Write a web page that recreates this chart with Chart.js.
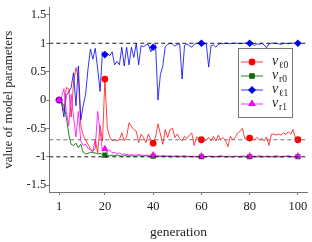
<!DOCTYPE html>
<html>
<head>
<meta charset="utf-8">
<script src="https://cdn.jsdelivr.net/npm/chart.js@4.4.0/dist/chart.umd.min.js"></script>
<style>
  body { margin: 0; background: #fff; }
  #grafico { display: block; }
</style>
</head>
<body>
<canvas id="grafico" width="312" height="242"></canvas>
<script>
// generaciones 1..100
var generaciones = Array.from({ length: 100 }, function (_, i) { return i + 1; });
var genMarcas = [1, 20, 40, 60, 80, 100];
var ticksX = [1, 20, 40, 60, 80, 100];
var ticksY = [-1.5, -1, -0.5, 0, 0.5, 1, 1.5];
var nivelesRef = [1, -1, -0.7];

var vl0 = [0, -0.05, -0.2, 0.22, 0.2, -0.3, 0.3, 0.57, 0.4, -0.45,
    -0.62, -0.7, -0.78, -0.86, -0.92, -0.69, -0.93, -0.45, -0.72, 0.37,
    -0.5, -0.65, -0.72, -0.7, -0.72, -0.7, -0.58, -0.72, -0.65, -0.4,
    -0.47, -0.52, -0.55, -0.75, -0.6, -0.66, -0.75, -0.6, -0.7, -0.76,
    -0.65, -0.42, -0.6, -0.78, -0.52, -0.66, -0.52, -0.5, -0.66, -0.6,
    -0.68, -0.72, -0.64, -0.68, -0.62, -0.58, -0.8, -0.65, -0.68, -0.7,
    -0.72, -0.7, -0.66, -0.72, -0.64, -0.72, -0.62, -0.7, -0.66, -0.72,
    -0.82, -0.64, -0.7, -0.66, -0.58, -0.55, -0.5, -0.68, -0.66, -0.67,
    -0.68, -0.7, -0.66, -0.7, -0.68, -0.72, -0.65, -0.8, -0.6, -0.6,
    -0.62, -0.6, -0.62, -0.58, -0.6, -0.56, -0.6, -0.52, -0.68, -0.7];

var vr0 = [0, -0.02, -0.1, -0.3, -0.6, -0.78, -0.8, -0.76, -0.84, -0.78,
    -0.92, -0.95, -0.94, -0.92, -0.93, -0.93, -0.95, -0.94, -0.96, -0.97,
    -0.97, -0.98, -0.97, -0.98, -0.97, -0.98, -0.99, -0.98, -0.98, -0.99,
    -0.98, -0.99, -0.99, -0.98, -0.99, -0.99, -0.98, -0.99, -1, -0.99,
    -0.99, -1, -0.99, -0.99, -1, -0.99, -1, -1, -0.99, -1,
    -1, -0.99, -1, -1, -0.99, -1, -1, -1, -0.99, -1,
    -1, -1, -0.99, -1, -1, -1, -1, -0.99, -1, -1,
    -1, -1, -1, -0.99, -1, -1, -1, -1, -1, -1,
    -0.99, -1, -1, -1, -1, -1, -0.99, -1, -1, -1,
    -1, -1, -1, -1, -0.99, -1, -1, -1, -1, -1];

var vl1 = [0, -0.03, -0.3, 0.08, 0.14, 0.22, 0.48, -0.1, 0.6, -0.35,
    -0.1, 0.1, 0.55, 0.9, 0.72, 0.91, 0.55, 0.15, 0.85, 0.8,
    0.82, 0.78, 0.85, 0.62, 0.68, 0.62, 0.93, 0.6, 0.93, 0.62,
    0.93, 0.75, 1.0, 0.62, 0.96, 0.94, 0.97, 0.98, 0.85, 0.93,
    0.97, 0.0, 0.45, 0.6, 0.94, 0.98, 1.0, 0.99, 0.95, 0.98,
    0.99, 0.37, 0.96, 0.99, 0.96, 0.93, 0.98, 1.0, 1.0, 1.0,
    0.98, 1.0, 0.58, 0.96, 0.97, 0.93, 0.98, 1.0, 0.99, 1.0,
    1.0, 0.99, 1.0, 1.0, 1.0, 0.99, 1.0, 1.0, 1.0, 1.0,
    0.99, 0.96, 0.99, 0.98, 1.0, 0.97, 0.92, 0.99, 1.0, 1.0,
    1.0, 0.99, 0.98, 1.0, 1.0, 0.99, 1.0, 1.0, 1.0, 1.0];

var vr1 = [0, 0.05, 0.2, -0.2, -0.45, 0.1, -0.3, -0.65, -0.2, -0.72,
    -0.8, -0.78, -0.85, -0.88, -0.9, -0.86, -0.2, -0.55, -0.9, -0.86,
    -0.92, -0.88, -0.93, -0.92, -0.95, -0.93, -0.96, -0.95, -0.96, -0.97,
    -0.96, -0.97, -0.97, -0.96, -0.97, -0.98, -0.97, -0.97, -0.98, -0.97,
    -0.98, -0.98, -0.99, -0.98, -0.98, -0.99, -0.98, -0.99, -0.99, -0.98,
    -0.99, -0.99, -0.98, -0.99, -1, -0.99, -0.99, -0.99, -1, -0.99,
    -0.99, -1, -0.99, -0.99, -0.99, -1, -0.99, -0.98, -0.99, -1,
    -0.99, -0.99, -1, -0.99, -0.99, -1, -0.98, -0.99, -0.99, -0.99,
    -1, -0.99, -0.99, -0.98, -0.99, -1, -0.99, -0.99, -1, -0.99,
    -0.98, -0.99, -1, -0.99, -0.99, -0.98, -0.99, -1, -0.99, -0.99];

var nombres = ["v_l0", "v_r0", "v_l1", "v_r1"];
var subindices = ["\u21130", "r0", "\u21131", "r1"];
var colores = ["rgba(255,0,0,0.75)", "rgba(0,110,0,0.85)", "rgba(0,0,255,0.8)", "rgba(255,0,255,0.8)"];
var coloresMarca = ["#ff0000", "#0a6e0a", "#0000ff", "#ff00ff"];
var estilos = ["circle", "rect", "rectRot", "triangle"];
var radios = [3.4, 3.6, 3.8, 4.2];
var series = [vl0, vr0, vl1, vr1];

var xMin = -3.05, xMax = 104.1;
var fuente = "'Liberation Serif', 'DejaVu Serif', serif";

var datasets = [];
for (var s = 0; s < series.length; s++) {
    (function (s) {
        datasets.push({
            label: nombres[s],
            data: generaciones.map(function (g, i) { return { x: g, y: series[s][i] }; }),
            borderColor: colores[s],
            borderWidth: 1,
            backgroundColor: coloresMarca[s],
            pointBackgroundColor: coloresMarca[s],
            pointBorderColor: coloresMarca[s],
            pointBorderWidth: 0,
            pointStyle: estilos[s],
            pointRadius: function (ctx) {
                return genMarcas.indexOf(ctx.raw.x) >= 0 ? radios[s] : 0;
            },
            tension: 0,
            order: 4 - s
        });
    })(s);
}

// lineas de referencia discontinuas
nivelesRef.forEach(function (nivel, k) {
    datasets.push({
        label: "ref" + k,
        data: [{ x: xMin, y: nivel }, { x: xMax, y: nivel }],
        borderColor: k < 2 ? "#000" : "#666",
        borderWidth: 0.9,
        borderDash: [4, 3],
        pointRadius: 0,
        order: -1
    });
});

// leyenda dibujada a mano (subindices)
var leyendaPlugin = {
    id: 'leyendaPlugin',
    afterDraw: function (chart) {
        var ctx = chart.ctx;
        var x0 = 238.5, y0 = 48.5, w = 54, h = 69;
        ctx.save();
        ctx.fillStyle = "#fff";
        ctx.fillRect(x0, y0, w, h);
        ctx.strokeStyle = "#777";
        ctx.lineWidth = 1;
        ctx.strokeRect(x0, y0, w, h);
        for (var i = 0; i < 4; i++) {
            var yy = 62 + i * 14;
            ctx.strokeStyle = colores[i];
            ctx.lineWidth = 1;
            ctx.beginPath();
            ctx.moveTo(241, yy);
            ctx.lineTo(263, yy);
            ctx.stroke();
            Chart.helpers.drawPoint(ctx, {
                pointStyle: estilos[i], radius: radios[i], borderWidth: 0,
                rotation: 0
            }, 252, yy);
            ctx.fillStyle = coloresMarca[i];
            ctx.fill();
            ctx.fillStyle = "#222";
            ctx.textBaseline = "alphabetic";
            ctx.font = "italic 14px " + fuente;
            ctx.fillText("v", 272, yy + 3);
            ctx.font = "9.5px " + fuente;
            ctx.fillText(subindices[i], 279, yy + 6);
        }
        ctx.restore();
    }
};

var grafico = new Chart(document.getElementById('grafico'), {
    type: 'line',
    data: { datasets: datasets },
    options: {
        responsive: false,
        animation: false,
        layout: { padding: { left: 0, top: 3, right: 3.7, bottom: 0 } },
        plugins: { legend: { display: false }, tooltip: { enabled: false } },
        scales: {
            x: {
                type: 'linear',
                min: xMin,
                max: xMax,
                afterBuildTicks: function (scale) {
                    scale.ticks = ticksX.map(function (v) { return { value: v }; });
                },
                afterFit: function (scale) { scale.height = 50; },
                grid: { drawOnChartArea: false, tickLength: 3, color: '#777' },
                border: { color: '#777' },
                ticks: {
                    color: '#222', padding: 4, maxRotation: 0,
                    font: { family: fuente, size: 12.5 }
                },
                title: {
                    display: true, text: 'generation', color: '#222',
                    font: { family: fuente, size: 13.5 },
                    padding: { top: 0, bottom: 1 }
                }
            },
            y: {
                min: -1.62,
                max: 1.63,
                afterBuildTicks: function (scale) {
                    scale.ticks = ticksY.map(function (v) { return { value: v }; });
                },
                afterFit: function (scale) { scale.width = 49.3; },
                grid: { drawOnChartArea: false, tickLength: 3, color: '#777' },
                border: { color: '#777' },
                ticks: {
                    color: '#222', padding: 0,
                    font: { family: fuente, size: 12.5 },
                    callback: function (v) { return String(v); }
                },
                title: {
                    display: true, text: 'value of model parameters', color: '#222',
                    font: { family: fuente, size: 13 },
                    padding: { top: 0.5, bottom: 0 }
                }
            }
        }
    },
    plugins: [leyendaPlugin]
});
</script>
</body>
</html>
